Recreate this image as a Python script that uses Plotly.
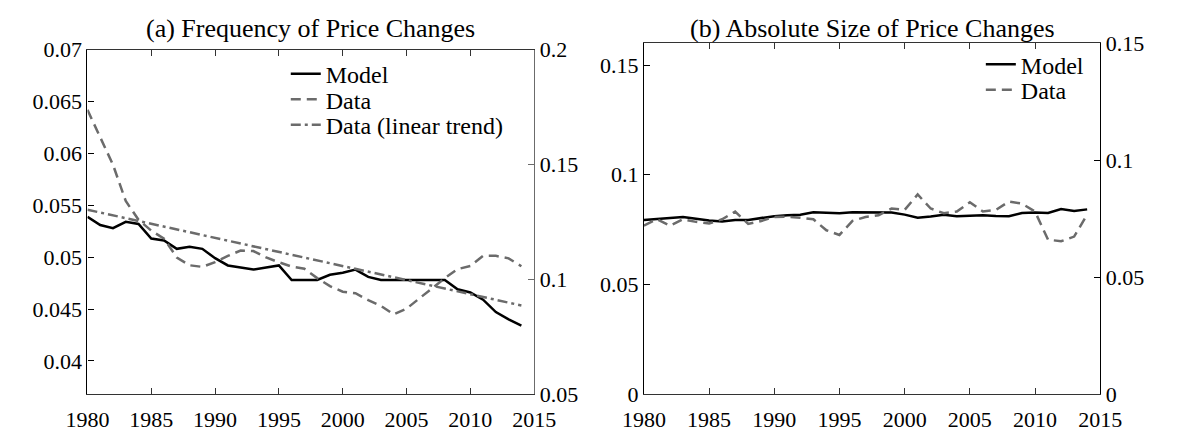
import plotly.graph_objects as go

years = list(range(1980, 2015))

# Panel (a): frequency of price changes
freq_model = [0.0539, 0.0531, 0.0528, 0.0534, 0.0532, 0.0518, 0.0516, 0.0508, 0.0510, 0.0508,
              0.0499, 0.0492, 0.0490, 0.0488, 0.0490, 0.0492, 0.0478, 0.0478, 0.0478, 0.0483,
              0.0485, 0.0488, 0.0481, 0.0478, 0.0478, 0.0478, 0.0478, 0.0478, 0.0478, 0.0469,
              0.0466, 0.0459, 0.0447, 0.0440, 0.0434]
freq_data = [0.1738, 0.1615, 0.1499, 0.1341, 0.1259, 0.1212, 0.1177, 0.1095, 0.1061, 0.1054,
             0.1075, 0.1102, 0.1125, 0.1123, 0.1095, 0.1074, 0.1055, 0.1046, 0.1005, 0.0970,
             0.0946, 0.0939, 0.0909, 0.0884, 0.0847, 0.0872, 0.0916, 0.0957, 0.1005, 0.1044,
             0.1058, 0.1102, 0.1102, 0.1091, 0.1057]
trend_years = [1980, 2014]
freq_trend = [0.1303, 0.0886]

# Panel (b): absolute size of price changes
size_model = [0.0794, 0.0798, 0.0801, 0.0807, 0.0799, 0.0791, 0.0787, 0.0794, 0.0794, 0.0802,
              0.0811, 0.0815, 0.0818, 0.0829, 0.0826, 0.0824, 0.0829, 0.0829, 0.0829, 0.0828,
              0.0818, 0.0804, 0.0809, 0.0817, 0.0811, 0.0812, 0.0815, 0.0812, 0.0811, 0.0825,
              0.0828, 0.0826, 0.0844, 0.0835, 0.0842]
size_data = [0.0720, 0.0747, 0.0720, 0.0747, 0.0736, 0.0729, 0.0747, 0.0780, 0.0727, 0.0740,
             0.0757, 0.0758, 0.0754, 0.0747, 0.0700, 0.0680, 0.0740, 0.0757, 0.0764, 0.0793,
             0.0787, 0.0853, 0.0793, 0.0773, 0.0780, 0.0820, 0.0780, 0.0787, 0.0823, 0.0814,
             0.0780, 0.0660, 0.0653, 0.0673, 0.0767]

x_ticks = [1980, 1985, 1990, 1995, 2000, 2005, 2010, 2015]
ya_ticks = [0.04, 0.045, 0.05, 0.055, 0.06, 0.065, 0.07]
ya2_ticks = [0.05, 0.1, 0.15, 0.2]
yb_ticks = [0, 0.05, 0.1, 0.15]
yb2_ticks = [0, 0.05, 0.1, 0.15]

FONT = "Liberation Serif"
GRAY = "#6b6b6b"
W, H = 1179, 441

def px_x(p):
    return p / W

def px_y(p):
    return 1 - p / H

fig = go.Figure()
fig.add_trace(go.Scatter(x=years, y=freq_model, name="Model", mode="lines",
                         line=dict(color="black", width=2.5), xaxis="x", yaxis="y", legend="legend"))
fig.add_trace(go.Scatter(x=years, y=freq_data, name="Data", mode="lines",
                         line=dict(color=GRAY, width=2.5, dash="10px,6px"), xaxis="x", yaxis="y2", legend="legend2"))
fig.add_trace(go.Scatter(x=trend_years, y=freq_trend, name="Data (linear trend)", mode="lines",
                         line=dict(color=GRAY, width=2.5, dash="10px,4px,3px,4px"), xaxis="x", yaxis="y2", legend="legend3"))
fig.add_trace(go.Scatter(x=years, y=size_model, name="Model", mode="lines",
                         line=dict(color="black", width=2.5), xaxis="x2", yaxis="y3", legend="legend4"))
fig.add_trace(go.Scatter(x=years, y=size_data, name="Data", mode="lines",
                         line=dict(color=GRAY, width=2.5, dash="10px,6px"), xaxis="x2", yaxis="y4", legend="legend5"))

dom_a = [px_x(68), px_x(532)]
dom_b = [px_x(646), px_x(1120)]
dom_ya = [px_y(405), px_y(40)]
dom_yb = [px_y(405), px_y(33)]

tickfont = dict(family=FONT, size=22, color="black")

def fmt(v):
    return f"{v:g}"

xcommon = dict(range=[1980, 2015], tickvals=x_ticks, ticktext=[str(t) for t in x_ticks],
               ticks="inside", ticklen=6, tickcolor="#333", showline=True, linecolor="#333",
               linewidth=1.2, mirror="ticks", showgrid=False, zeroline=False, tickfont=tickfont,
               ticklabelstandoff=5)

ycommon = dict(ticks="inside", ticklen=6, showline=True, linewidth=1.2, showgrid=False,
               zeroline=False, tickfont=tickfont)

def leg(xp, ytop):
    return dict(x=px_x(xp), y=px_y(ytop), xanchor="left", yanchor="top",
                bgcolor="rgba(0,0,0,0)", font=dict(family=FONT, size=24, color="black"),
                itemwidth=30)

fig.update_layout(
    width=W, height=H, margin=dict(l=0, r=0, t=0, b=0),
    paper_bgcolor="white", plot_bgcolor="white",
    xaxis=dict(domain=dom_a, anchor="y", **xcommon),
    xaxis2=dict(domain=dom_b, anchor="y3", **xcommon),
    yaxis=dict(domain=dom_ya, anchor="x", range=[0.0368, 0.07], tickvals=ya_ticks,
               ticktext=[fmt(v) for v in ya_ticks], tickcolor="black", linecolor="black", **ycommon),
    yaxis2=dict(overlaying="y", side="right", anchor="x", range=[0.05, 0.2], tickvals=ya2_ticks,
                ticktext=[fmt(v) for v in ya2_ticks], tickcolor=GRAY, linecolor=GRAY, **ycommon),
    yaxis3=dict(domain=dom_yb, anchor="x2", range=[0, 0.16], tickvals=yb_ticks,
                ticktext=[fmt(v) for v in yb_ticks], tickcolor="black", linecolor="black", **ycommon),
    yaxis4=dict(overlaying="y3", side="right", anchor="x2", range=[0, 0.15], tickvals=yb2_ticks,
                ticktext=[fmt(v) for v in yb2_ticks], tickcolor="black", linecolor="black", **ycommon),
    legend=leg(274, 42),
    legend2=leg(274, 69),
    legend3=leg(274, 96),
    legend4=leg(996, 32),
    legend5=leg(996, 59),
    showlegend=True,
    annotations=[
        dict(text="(a) Frequency of Price Changes", x=(dom_a[0] + dom_a[1]) / 2, y=px_y(35),
             xref="paper", yref="paper", xanchor="center", yanchor="bottom", showarrow=False,
             font=dict(family=FONT, size=26, color="black")),
        dict(text="(b) Absolute Size of Price Changes", x=(dom_b[0] + dom_b[1]) / 2, y=px_y(35),
             xref="paper", yref="paper", xanchor="center", yanchor="bottom", showarrow=False,
             font=dict(family=FONT, size=26, color="black")),
    ],
)

fig.write_html("out.html")
